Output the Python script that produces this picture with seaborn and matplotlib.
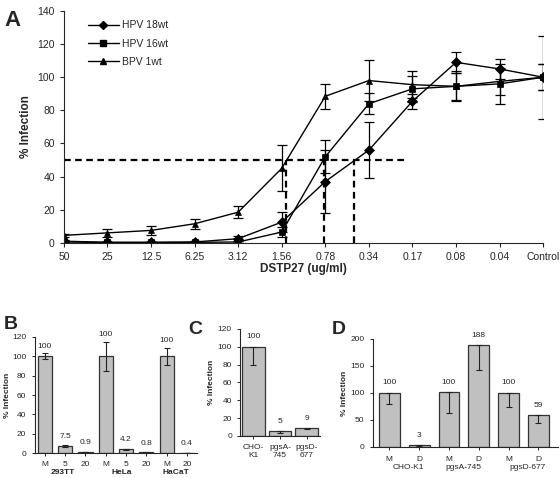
import numpy as np
import pandas as pd
import matplotlib
matplotlib.use("Agg")
import matplotlib.pyplot as plt
import seaborn as sns
from matplotlib.lines import Line2D

sns.set_style("ticks")
plt.rcParams['font.family'] = ['Liberation Sans', 'DejaVu Sans']

# ---------------- Data ----------------
conc_labels = ["50", "25", "12.5", "6.25", "3.12", "1.56", "0.78", "0.34", "0.17", "0.08", "0.04", "Control"]
hpv18 = [1, 0.3, 0.3, 0.5, 2.5, 12.5, 37, 56, 85.5, 109, 105, 100]
hpv18_err = [0.5, 0.3, 0.3, 0.5, 1.5, 6, 19, 17, 4.5, 6.5, 6, 25]
hpv16 = [0.5, 0.2, 0.2, 0.3, 0.5, 6.5, 52, 84, 93, 94.5, 96, 100]
hpv16_err = [0.5, 0.2, 0.2, 0.3, 0.5, 3, 10, 6.5, 8, 9, 12, 8]
bpv1 = [4.5, 6, 7.5, 11.5, 18.5, 45, 88.5, 98, 95.5, 94.5, 97.5, 100]
bpv1_err = [1, 2.5, 2.5, 3, 3.5, 14, 7.5, 12.5, 8, 8, 8, 8]
series_names = ["HPV 18wt", "HPV 16wt", "BPV 1wt"]
ic50_x = [5.1, 5.96, 6.66]

b_labels = ["M", "5", "20", "M", "5", "20", "M", "20"]
b_vals = [100, 7.5, 0.9, 100, 4.2, 0.8, 100, 0.4]
b_err = [3, 1, 0.2, 15, 0.5, 0.2, 9, 0.1]
b_text = ["100", "7.5", "0.9", "100", "4.2", "0.8", "100", "0.4"]
b_groups = ["293TT", "HeLa", "HaCaT"]

c_labels = ["CHO-\nK1", "pgsA-\n745", "pgsD-\n677"]
c_vals = [100, 5, 9]
c_err = [20, 1.5, 1.5]
c_text = ["100", "5", "9"]

d_labels = ["M", "D", "M", "D", "M", "D"]
d_vals = [100, 3, 101, 188, 100, 59]
d_err = [20, 1, 38, 45, 27, 15]
d_text = ["100", "3", "100", "188", "100", "59"]
d_groups = ["CHO-K1", "pgsA-745", "pgsD-677"]

# ---------------- Figure ----------------
fig = plt.figure(figsize=(5.6, 4.78), dpi=100)

# Panel A
axA = fig.add_axes([0.114, 0.492, 0.856, 0.485])
xi = np.arange(len(conc_labels))
dfA = pd.DataFrame({
    "x": np.tile(xi, 3),
    "y": hpv18 + hpv16 + bpv1,
    "series": np.repeat(series_names, len(xi)),
})
sns.lineplot(data=dfA, x="x", y="y", hue="series", style="series",
             palette=["black"] * 3, markers={"HPV 18wt": "D", "HPV 16wt": "s", "BPV 1wt": "^"},
             dashes=False, markersize=5, linewidth=1, ax=axA, legend=False,
             markeredgecolor="black", markeredgewidth=0.5)
for vals, errs in [(hpv18, hpv18_err), (hpv16, hpv16_err), (bpv1, bpv1_err)]:
    axA.errorbar(xi, vals, yerr=errs, fmt="none", ecolor="black", elinewidth=0.9, capsize=3.5, capthick=0.9)
axA.plot([0, 7.8], [50, 50], ls=(0, (3, 2)), color="black", lw=1.6)
for xv in ic50_x:
    axA.plot([xv, xv], [0, 50], ls=(0, (3, 2)), color="black", lw=1.6)
axA.set_xlim(0, 11)
axA.set_ylim(0, 140)
axA.set_yticks(np.arange(0, 141, 20))
axA.set_xticks(xi)
axA.set_xticklabels(conc_labels)
axA.tick_params(labelsize=7.5, length=3, width=0.8)
axA.set_xlabel("DSTP27 (ug/ml)", fontsize=8.5, fontweight="bold", labelpad=1)
axA.set_ylabel("% Infection", fontsize=8.5, fontweight="bold")
sns.despine(ax=axA)
handles = [Line2D([], [], color="black", marker=m, markersize=4.5, lw=1) for m in ["D", "s", "^"]]
axA.legend(handles, series_names, loc="upper left", bbox_to_anchor=(0.03, 1.0), frameon=False,
           fontsize=7.5, handlelength=3.0, handletextpad=0.3, labelspacing=0.8)
fig.text(0.008, 0.945, "A", fontsize=16, fontweight="bold")

bar_color = "#c0c0c0"
edge = "#333333"

def barpanel(ax, labels, vals, errs, width, lower_only, fs, pad):
    ids = [f"c{i}" for i in range(len(vals))]
    sns.barplot(x=ids, y=vals, color=bar_color, edgecolor=edge, linewidth=0.9, width=width, ax=ax, saturation=1)
    pos = np.arange(len(vals))
    yerr = [errs, [0] * len(errs)] if lower_only else errs
    ax.errorbar(pos, vals, yerr=yerr, fmt="none", ecolor="#222222", elinewidth=0.8, capsize=2.5, capthick=0.8)
    ax.set_xticks(pos)
    ax.set_xticklabels(labels)
    ax.tick_params(labelsize=fs, length=2.5, width=0.7)
    ax.tick_params(axis="x", pad=pad)
    ax.set_xlabel("")
    sns.despine(ax=ax)
    return pos

# Panel B
axB = fig.add_axes([0.062, 0.052, 0.290, 0.243])
pos = barpanel(axB, b_labels, b_vals, b_err, 0.7, False, 6, 3.5)
axB.set_xlim(-0.5, 7.5)
axB.set_ylim(0, 120)
axB.set_yticks(np.arange(0, 121, 20))
for p, v, e, t in zip(pos, b_vals, b_err, b_text):
    axB.text(p, v + max(e, 2) + 4, t, ha="center", va="bottom", fontsize=6)
axB.set_ylabel("% Infection", fontsize=6, fontweight="bold", labelpad=1)
for gx, g in zip([0.9, 3.8, 6.45], b_groups):
    axB.text(gx, -0.135, g, transform=axB.get_xaxis_transform(), ha="center", va="top",
             fontsize=6, fontweight="bold")
fig.text(0.006, 0.312, "B", fontsize=14, fontweight="bold")

# Panel C
axC = fig.add_axes([0.429, 0.088, 0.142, 0.224])
pos = barpanel(axC, c_labels, c_vals, c_err, 0.85, True, 6, 3)
axC.set_xlim(-0.5, 2.5)
axC.set_ylim(0, 120)
axC.set_yticks(np.arange(0, 121, 20))
for p, v, t in zip(pos, c_vals, c_text):
    axC.text(p, v + 7, t, ha="center", va="bottom", fontsize=6)
axC.set_ylabel("% Infection", fontsize=6, fontweight="bold", labelpad=2)
fig.text(0.337, 0.302, "C", fontsize=14, fontweight="bold")

# Panel D
axD = fig.add_axes([0.666, 0.065, 0.33, 0.226])
pos = barpanel(axD, d_labels, d_vals, d_err, 0.7, True, 6, 4)
axD.set_xlim(-0.55, 5.65)
axD.set_ylim(0, 200)
axD.set_yticks(np.arange(0, 201, 50))
for p, v, t in zip(pos, d_vals, d_text):
    axD.text(p, v + 12, t, ha="center", va="bottom", fontsize=6)
axD.set_ylabel("% Infection", fontsize=6, fontweight="bold", labelpad=2)
for gx, g in zip([0.63, 2.47, 4.63], d_groups):
    axD.text(gx, -0.16, g, transform=axD.get_xaxis_transform(), ha="center", va="top", fontsize=6)
fig.text(0.593, 0.302, "D", fontsize=14, fontweight="bold")

fig.savefig("out.png", dpi=100)
